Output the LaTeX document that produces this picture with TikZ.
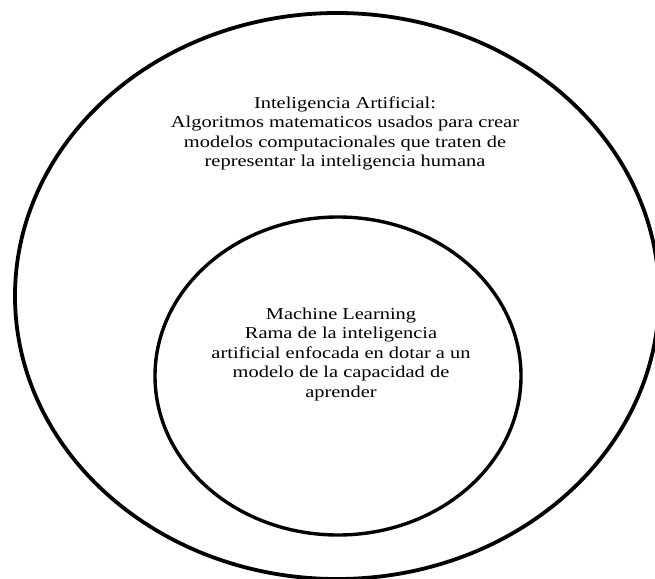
\documentclass[tikz,border=0pt]{standalone}
\usepackage{fontspec}
\newfontfamily\tnr[FakeStretch=1.23]{Liberation Serif}
\begin{document}
\begin{tikzpicture}[x=1pt,y=-1pt,
  ring/.style={draw=black,line width=#1},
  label/.style={align=center,inner sep=0pt,anchor=north,font=\tnr\fontsize{16.6}{19.5}\selectfont}]
\useasboundingbox (0,0) rectangle (655,578);
\fill[white] (0,0) rectangle (655,578);
\begin{scope}
\clip (0,0) rectangle (655,578);
\draw[ring=3.8pt] (337,296) ellipse [x radius=322pt, y radius=283pt];
\end{scope}
\draw[ring=3.4pt] (338,376) ellipse [x radius=183pt, y radius=159pt];
\node[label] (ia) at (345,96.2) {Inteligencia Artificial:\\Algoritmos matematicos usados para crear\\modelos computacionales que traten de\\representar la inteligencia humana};
\node[label] (ml) at (341,307.7) {Machine Learning\\Rama de la inteligencia\\artificial enfocada en dotar a un\\modelo de la capacidad de\\aprender};
\end{tikzpicture}
\end{document}
